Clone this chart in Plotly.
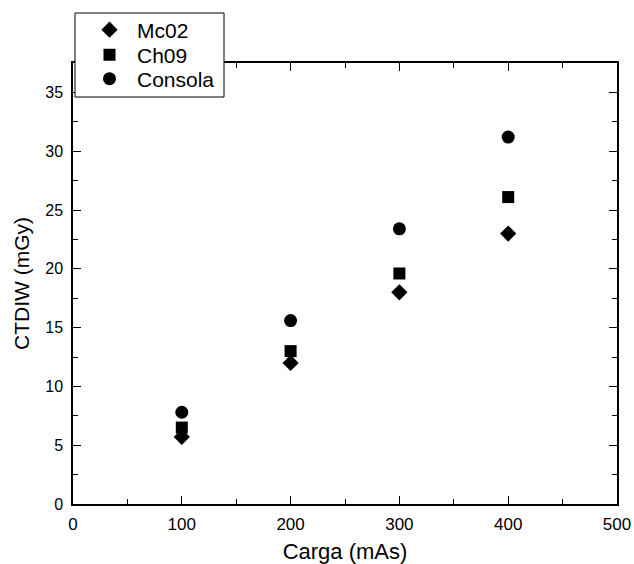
import plotly.graph_objects as go

carga = [100, 200, 300, 400]
mc02 = [5.7, 12.0, 18.0, 23.0]
ch09 = [6.5, 13.0, 19.6, 26.1]
consola = [7.8, 15.6, 23.4, 31.2]

names = ["Mc02", "Ch09", "Consola"]
values = [mc02, ch09, consola]
symbols = ["diamond", "square", "circle"]
sizes = [12.5, 12, 13]
legend_ids = ["legend", "legend2", "legend3"]

# layout geometry (pixels)
W, H = 634, 564
L, R, T, B = 73, 17, 63, 60
pw, ph = W - L - R, H - T - B


def px_x(p):
    return (p - L) / pw


def px_y(p):
    return (H - B - p) / ph


font = "Liberation Sans, Arial, sans-serif"

fig = go.Figure()
for name, vals, sym, sz, lg in zip(names, values, symbols, sizes, legend_ids):
    fig.add_trace(go.Scatter(
        x=carga, y=vals, mode="markers", name=name, legend=lg,
        marker=dict(symbol=sym, size=sz, color="black", line=dict(width=0)),
    ))

axis_common = dict(
    showline=True, linecolor="black", linewidth=1.5, mirror="allticks",
    ticks="inside", ticklen=8, tickwidth=1.2, tickcolor="black",
    showgrid=False, zeroline=False, automargin=False,
)

fig.update_xaxes(
    range=[0, 500], tick0=0, dtick=100,
    minor=dict(dtick=50, ticks="inside", ticklen=5, tickwidth=1.2, tickcolor="black"),
    tickfont=dict(family=font, size=17, color="black"), ticklabelstandoff=4,
    title=dict(text="Carga (mAs)", font=dict(family=font, size=22, color="black"), standoff=14),
    **axis_common,
)
fig.update_yaxes(
    range=[0, 37.5], tick0=0, dtick=5,
    minor=dict(dtick=2.5, ticks="inside", ticklen=5, tickwidth=1.2, tickcolor="black"),
    tickfont=dict(family=font, size=16, color="black"), ticklabelstandoff=5,
    title=dict(text="CTDIW (mGy)", font=dict(family=font, size=21, color="black"), standoff=10),
    **axis_common,
)

# legend frame
fig.add_shape(
    type="rect", xref="paper", yref="paper", layer="above",
    x0=px_x(75), x1=px_x(224), y0=px_y(97), y1=px_y(13),
    fillcolor="white", line=dict(color="black", width=1),
)

item_y = [30, 55, 79]
leg_common = dict(
    xanchor="left", yanchor="middle", bgcolor="rgba(0,0,0,0)", borderwidth=0,
    font=dict(family=font, size=21, color="black"), itemwidth=45,
)
layout_legends = {}
for lg, yy in zip(legend_ids, item_y):
    layout_legends[lg] = dict(x=px_x(82), y=px_y(yy), **leg_common)

fig.update_layout(
    width=W, height=H,
    margin=dict(l=L, r=R, t=T, b=B, autoexpand=False),
    paper_bgcolor="white", plot_bgcolor="white",
    showlegend=True,
    **layout_legends,
)

fig.write_html("out.html")
